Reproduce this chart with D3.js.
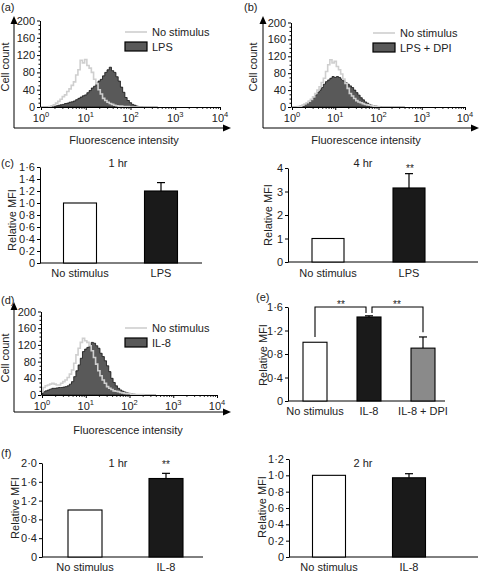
<!DOCTYPE html>
<html><head><meta charset="utf-8">
<script src="https://cdn.jsdelivr.net/npm/d3@7"></script>
<style>
body{margin:0;background:#fff}
svg{display:block}
text{font-family:'Liberation Sans',Arial,Helvetica,sans-serif;fill:#222}
</style>
</head><body>
<svg id="chart" width="480" height="573"></svg>
<script>
// ---------- DATA ----------
const binLog = [0.00,0.05,0.10,0.15,0.20,0.25,0.30,0.35,0.40,0.45,0.50,0.55,0.60,0.65,0.70,0.75,0.80,0.85,0.90,0.95,
  1.00,1.05,1.10,1.15,1.20,1.25,1.30,1.35,1.40,1.45,1.50,1.55,1.60,1.65,1.70,1.75,1.80,1.85,1.90,1.95,
  2.00,2.05,2.10,2.15,2.20,2.25,2.30,2.35,2.40,2.45,2.50,2.55,2.60];
const histTicksY = [0,40,80,120,160,200];
const logMajor = [1,10,100,1000,10000];
const logExp = ["0","1","2","3","4"];

// (a)
const aNoStim = [0,0,0,0,1,3,5,9,13,18,24,28,36,42,50,58,74,86,108,102,110,96,90,80,64,54,40,30,20,15,11,8,6,4,3,2,2,1,1,1,0,0,0,0,0,0,0,0,0,0,0,0,0];
const aLPS    = [0,0,0,0,1,1,2,3,4,5,6,8,9,11,12,14,17,20,23,26,28,33,38,44,48,55,60,64,72,80,86,92,84,80,70,60,46,34,22,15,10,6,4,2,1,1,0,0,0,0,0,0,0];
// (b)
const bNoStim = [0,0,0,1,2,4,7,10,14,18,24,32,40,48,58,68,84,100,112,104,108,96,88,78,66,56,44,32,26,20,15,12,10,8,6,5,4,3,2,1,1,0,0,0,0,0,0,0,0,0,0,0,0];
const bLPSDPI = [0,0,0,1,2,4,6,9,13,17,22,28,34,40,46,54,60,64,68,72,70,72,70,66,62,58,54,50,46,40,34,28,22,17,12,9,6,4,3,2,1,1,0,0,0,0,0,0,0,0,0,0,0];
// (d)
const dNoStim = [8,18,22,24,26,28,26,24,24,28,32,36,42,50,60,76,96,112,126,136,130,126,118,106,90,74,58,46,36,28,20,16,13,10,9,8,6,5,4,3,3,2,2,1,1,1,1,0,0,0,0,0,0];
const dIL8    = [4,8,10,12,14,16,16,17,18,18,19,20,22,26,32,44,58,72,88,104,110,114,118,126,124,118,112,100,92,82,70,56,40,30,22,16,12,9,7,5,4,3,2,1,1,0,0,0,0,0,0,0,0];

// (c) bar charts
const c1Cats = ["No stimulus","LPS"], c1Vals = [1.0,1.2], c1ErrTop = [null,1.34], c1Ticks = [0,0.2,0.4,0.6,0.8,1.0,1.2,1.4,1.6];
const c2Cats = ["No stimulus","LPS"], c2Vals = [1.0,3.15], c2ErrTop = [null,3.76], c2Ticks = [0,1,2,3,4];
// (e)
const eCats = ["No stimulus","IL-8","IL-8 + DPI"], eVals = [1.0,1.43,0.90], eErrTop = [null,1.45,1.09], eTicks = [0,0.4,0.8,1.2,1.6];
// (f)
const f1Cats = ["No stimulus","IL-8"], f1Vals = [1.0,1.67], f1ErrTop = [null,1.78], f1Ticks = [0,0.4,0.8,1.2,1.6,2.0];
const f2Cats = ["No stimulus","IL-8"], f2Vals = [1.0,0.97], f2ErrTop = [null,1.02], f2Ticks = [0,0.2,0.4,0.6,0.8,1.0,1.2];

// ---------- DRAW ----------
const svg = d3.select("#chart");
const FONT = 11;
const DARK = "#595959", LIGHT = "#cfcfcf";

function arrowAxes(g, ax, top, base, right) {
  g.append("line").attr("x1",ax).attr("y1",base).attr("x2",ax).attr("y2",top+6).attr("stroke","#000").attr("stroke-width",1);
  g.append("path").attr("d",`M${ax},${top}L${ax-3.5},${top+8}L${ax+3.5},${top+8}Z`).attr("fill","#000");
  g.append("line").attr("x1",ax).attr("y1",base).attr("x2",right-6).attr("y2",base).attr("stroke","#000").attr("stroke-width",1);
  g.append("path").attr("d",`M${right},${base}L${right-8},${base-3.5}L${right-8},${base+3.5}Z`).attr("fill","#000");
}

function styleAxis(sel){
  sel.selectAll("path.domain").attr("stroke","#000").attr("stroke-width",1);
  sel.selectAll(".tick line").attr("stroke","#000");
  sel.selectAll(".tick text").attr("font-size",FONT).attr("fill","#222").attr("font-family","'Liberation Sans',Arial,sans-serif");
}

function hist(p){
  const g = svg.append("g");
  const x = d3.scaleLog().domain([1,1e4]).range(p.xr);
  const y = d3.scaleLinear().domain([0,200]).range(p.yr);
  arrowAxes(g, p.ax, p.at, p.ab, p.ar);
  const area = d3.area().curve(d3.curveStep)
    .x((d,i)=>x(Math.pow(10,binLog[i]))).y0(y(0)).y1(d=>y(d));
  g.append("path").datum(p.treat).attr("d",area).attr("fill",DARK).attr("stroke","#111").attr("stroke-width",0.8);
  const line = d3.line().curve(d3.curveStep).x((d,i)=>x(Math.pow(10,binLog[i]))).y(d=>y(d));
  g.append("path").datum(p.noStim).attr("d",line).attr("fill","none").attr("stroke",LIGHT).attr("stroke-width",1.6);
  const ya = g.append("g").attr("transform",`translate(${p.xr[0]-1},0)`)
    .call(d3.axisLeft(y).tickValues(histTicksY).tickSize(3).tickSizeOuter(0).tickPadding(2));
  styleAxis(ya);
  const yMinor = [];
  for (let v=10; v<200; v+=10) if (v%40) yMinor.push(v);
  g.append("g").attr("transform",`translate(${p.xr[0]-1},0)`)
    .call(d3.axisLeft(y).tickValues(yMinor).tickSize(1.5).tickFormat("")).call(s=>{s.select(".domain").remove(); s.selectAll("line").attr("stroke","#000");});
  const xa = g.append("g").attr("transform",`translate(0,${y(0)})`)
    .call(d3.axisBottom(x).tickValues(logMajor).tickSize(3).tickSizeOuter(0).tickFormat(""));
  styleAxis(xa);
  const minor = [];
  [1,10,100,1000].forEach(b=>{for(let k=2;k<10;k++) minor.push(b*k);});
  g.append("g").attr("transform",`translate(0,${y(0)})`)
    .call(d3.axisBottom(x).tickValues(minor).tickSize(1.8).tickFormat("")).call(s=>{s.select(".domain").remove(); s.selectAll("line").attr("stroke","#000");});
  logMajor.forEach((v,i)=>{
    const t = g.append("text").attr("x",x(v)).attr("y",y(0)+15).attr("text-anchor","middle").attr("font-size",FONT);
    t.append("tspan").text("10");
    t.append("tspan").attr("dy",-5).attr("font-size",7.5).text(logExp[i]);
  });
  g.append("text").attr("transform",`translate(${p.ylx},${p.yly}) rotate(-90)`).attr("text-anchor","middle").attr("font-size",FONT).text("Cell count");
  g.append("text").attr("x",p.xlx).attr("y",p.xly).attr("text-anchor","middle").attr("font-size",FONT).text("Fluorescence intensity");
  g.append("line").attr("x1",p.lx).attr("x2",p.lx+22).attr("y1",p.ly).attr("y2",p.ly).attr("stroke",LIGHT).attr("stroke-width",1.6);
  g.append("text").attr("x",p.lx+27).attr("y",p.ly+4).attr("font-size",FONT).text("No stimulus");
  g.append("rect").attr("x",p.lx).attr("y",p.ly+10).attr("width",22).attr("height",9).attr("fill",DARK).attr("stroke","#000").attr("stroke-width",1.2);
  g.append("text").attr("x",p.lx+27).attr("y",p.ly+19).attr("font-size",FONT).text(p.treatLabel);
}

function bars(p){
  const g = svg.append("g");
  const y = d3.scaleLinear().domain([0,p.max]).range(p.yr);
  const x = d3.scalePoint().domain(p.cats).range(p.cx);
  const fmt = p.intTicks ? d3.format("d") : (d => d===0 ? "0" : d3.format(".1f")(d).replace(".","\u00B7"));
  const ya = g.append("g").attr("transform",`translate(${p.axX},0)`)
    .call(d3.axisLeft(y).tickValues(p.ticks).tickFormat(fmt).tickSize(3).tickSizeOuter(0).tickPadding(2));
  styleAxis(ya);
  g.append("line").attr("x1",p.axX).attr("x2",p.axEnd).attr("y1",y(0)).attr("y2",y(0)).attr("stroke","#000");
  p.cats.forEach((c,i)=>{
    const cx = x(c), v = p.vals[i];
    if (p.err[i] != null) {
      g.append("line").attr("x1",cx).attr("x2",cx).attr("y1",y(v)).attr("y2",y(p.err[i])).attr("stroke","#000").attr("stroke-width",1.2);
      g.append("line").attr("x1",cx-4).attr("x2",cx+4).attr("y1",y(p.err[i])).attr("y2",y(p.err[i])).attr("stroke","#000").attr("stroke-width",1.2);
    }
    g.append("rect").attr("x",cx-p.bw/2).attr("y",y(v)).attr("width",p.bw).attr("height",y(0)-y(v))
      .attr("fill",p.fills[i]).attr("stroke","#000").attr("stroke-width",1.1);
    g.append("text").attr("x",cx).attr("y",p.catY).attr("text-anchor","middle").attr("font-size",FONT).text(c);
  });
  g.append("text").attr("transform",`translate(${p.ylx},${p.yly}) rotate(-90)`).attr("text-anchor","middle").attr("font-size",FONT).text("Relative MFI");
  if (p.title) g.append("text").attr("x",p.title[1]).attr("y",p.title[2]).attr("text-anchor","middle").attr("font-size",FONT).text(p.title[0]);
  (p.stars||[]).forEach(s=>{
    g.append("text").attr("x",s[0]).attr("y",s[1]).attr("text-anchor","middle").attr("font-size",10).attr("fill","#222").text("**");
  });
  return {g,x,y};
}

function panelLabel(t,x,y){
  svg.append("text").attr("x",x).attr("y",y).attr("font-size",FONT).text(t);
}

// (a)
hist({xr:[41,220], yr:[107,20.5], ax:14, at:16, ab:128, ar:231, ylx:9, yly:67, xlx:124, xly:144,
  lx:125, ly:32, noStim:aNoStim, treat:aLPS, treatLabel:"LPS"});
panelLabel("(a)",1,11);
// (b)
hist({xr:[292,465], yr:[107,22.5], ax:263, at:16, ab:128, ar:479, ylx:257, yly:67, xlx:366, xly:144,
  lx:373, ly:33, noStim:bNoStim, treat:bLPSDPI, treatLabel:"LPS + DPI"});
panelLabel("(b)",244,11);
// (d)
hist({xr:[42,217], yr:[395,311.5], ax:14, at:302, ab:412, ar:231, ylx:9, yly:358, xlx:128, xly:434,
  lx:125, ly:328, noStim:dNoStim, treat:dIL8, treatLabel:"IL-8"});
panelLabel("(d)",1,304);

// (c)
panelLabel("(c)",1,167);
bars({cats:c1Cats, vals:c1Vals, err:c1ErrTop, ticks:c1Ticks, max:1.6, yr:[263,167], cx:[80,161], bw:33,
  axX:40, axEnd:202, catY:277, ylx:16, yly:220, fills:["#fff","#1a1a1a"], title:["1 hr",118,167]});
bars({cats:c2Cats, vals:c2Vals, err:c2ErrTop, ticks:c2Ticks, max:4, yr:[262,168], cx:[328,409], bw:32, intTicks:true,
  axX:288, axEnd:478, catY:277, ylx:272, yly:215, fills:["#fff","#1a1a1a"], title:["4 hr",363,167], stars:[[410,172]]});

// (e)
panelLabel("(e)",256,301);
const E = bars({cats:eCats, vals:eVals, err:eErrTop, ticks:eTicks, max:1.6, yr:[401,307], cx:[315,423], bw:24,
  axX:288, axEnd:445, catY:415, ylx:267, yly:355, fills:["#fff","#1a1a1a","#8a8a8a"], stars:[[341,308],[397,308]]});
const brTop = 1.6;
const brackets = [[0,1,1.09,1.50],[1,2,1.50,1.17]];
brackets.forEach(b=>{
  const xa = E.x(eCats[b[0]]) + (b[0]===1?3:0), xb = E.x(eCats[b[1]]) - (b[1]===1?3:0);
  E.g.append("path").attr("d",`M${xa},${E.y(b[2])}V${E.y(brTop)}H${xb}V${E.y(b[3])}`)
    .attr("fill","none").attr("stroke","#000").attr("stroke-width",1.1);
});

// (f)
panelLabel("(f)",1,457);
bars({cats:f1Cats, vals:f1Vals, err:f1ErrTop, ticks:f1Ticks, max:2.0, yr:[557,463], cx:[85,166], bw:34,
  axX:42, axEnd:203, catY:571, ylx:19, yly:508, fills:["#fff","#1a1a1a"], title:["1 hr",118,467], stars:[[166,468]]});
bars({cats:f2Cats, vals:f2Vals, err:f2ErrTop, ticks:f2Ticks, max:1.2, yr:[557,459], cx:[329,409], bw:33,
  axX:289, axEnd:478, catY:571, ylx:266, yly:507, fills:["#fff","#1a1a1a"], title:["2 hr",363,467]});
</script>
</body></html>
